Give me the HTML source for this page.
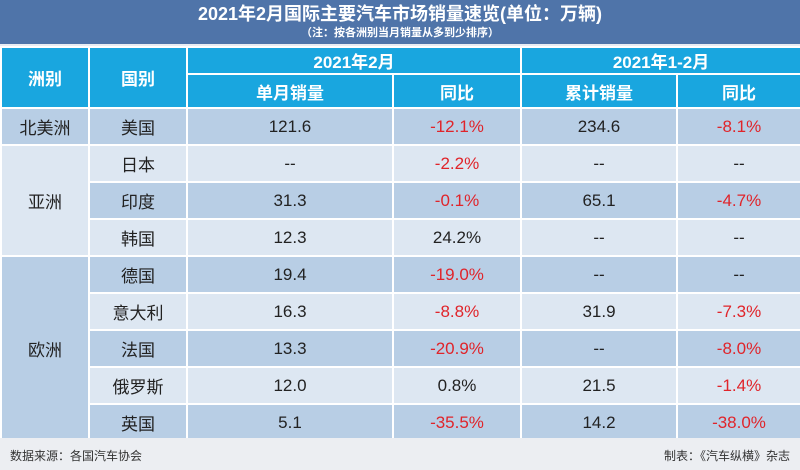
<!DOCTYPE html>
<html><head><meta charset="utf-8"><style>
body{margin:0;width:800px;height:470px;overflow:hidden;background:#e9edf3;font-family:"Liberation Sans","Noto Sans CJK SC",sans-serif;position:relative}
.t{position:absolute;left:0;top:0;width:800px;height:44px;background:#4f74a9;color:#fff;text-align:center}
.t .a{font-size:18px;font-weight:bold;line-height:24px;padding-top:2px}
.t .b{font-size:11px;font-weight:bold;line-height:14px}
table{position:absolute;left:0;top:46px;border-collapse:collapse;width:800px;table-layout:fixed}
td{border:2px solid #fff;text-align:center;font-size:17px;color:#222;padding:0}
.h td{background:#19a6df;color:#fff;font-weight:bold;font-size:17px}
.d{background:#b8cee5}.l{background:#dde7f2}
.r{color:#e0242a}
.f{position:absolute;left:0;top:438px;width:800px;height:32px;background:#eceef2;font-size:12px;color:#333}
</style></head><body>
<div class="t"><div class="a">2021年2月国际主要汽车市场销量速览(单位：万辆)</div><div class="b">（注：按各洲别当月销量从多到少排序）</div></div>
<table>
<colgroup><col style="width:88px"><col style="width:98px"><col style="width:206px"><col style="width:128px"><col style="width:156px"><col style="width:124px"></colgroup>
<tr class="h" style="height:23px"><td rowspan="2">洲别</td><td rowspan="2">国别</td><td colspan="2">2021年2月</td><td colspan="2">2021年1-2月</td></tr>
<tr class="h" style="height:34px"><td>单月销量</td><td>同比</td><td>累计销量</td><td>同比</td></tr>
<tr class="d" style="height:37px"><td>北美洲</td><td>美国</td><td>121.6</td><td class="r">-12.1%</td><td>234.6</td><td class="r">-8.1%</td></tr>
<tr class="l" style="height:37px"><td rowspan="3" class="l">亚洲</td><td>日本</td><td>--</td><td class="r">-2.2%</td><td>--</td><td>--</td></tr>
<tr class="d" style="height:37px"><td>印度</td><td>31.3</td><td class="r">-0.1%</td><td>65.1</td><td class="r">-4.7%</td></tr>
<tr class="l" style="height:37px"><td>韩国</td><td>12.3</td><td>24.2%</td><td>--</td><td>--</td></tr>
<tr class="d" style="height:37px"><td rowspan="5" class="d">欧洲</td><td>德国</td><td>19.4</td><td class="r">-19.0%</td><td>--</td><td>--</td></tr>
<tr class="l" style="height:37px"><td>意大利</td><td>16.3</td><td class="r">-8.8%</td><td>31.9</td><td class="r">-7.3%</td></tr>
<tr class="d" style="height:37px"><td>法国</td><td>13.3</td><td class="r">-20.9%</td><td>--</td><td class="r">-8.0%</td></tr>
<tr class="l" style="height:37px"><td>俄罗斯</td><td>12.0</td><td>0.8%</td><td>21.5</td><td class="r">-1.4%</td></tr>
<tr class="d" style="height:37px"><td>英国</td><td>5.1</td><td class="r">-35.5%</td><td>14.2</td><td class="r">-38.0%</td></tr>
</table>
<div class="f"><span style="position:absolute;left:10px;top:9px">数据来源：各国汽车协会</span><span style="position:absolute;right:10px;top:9px">制表：《汽车纵横》杂志</span></div>
</body></html>
